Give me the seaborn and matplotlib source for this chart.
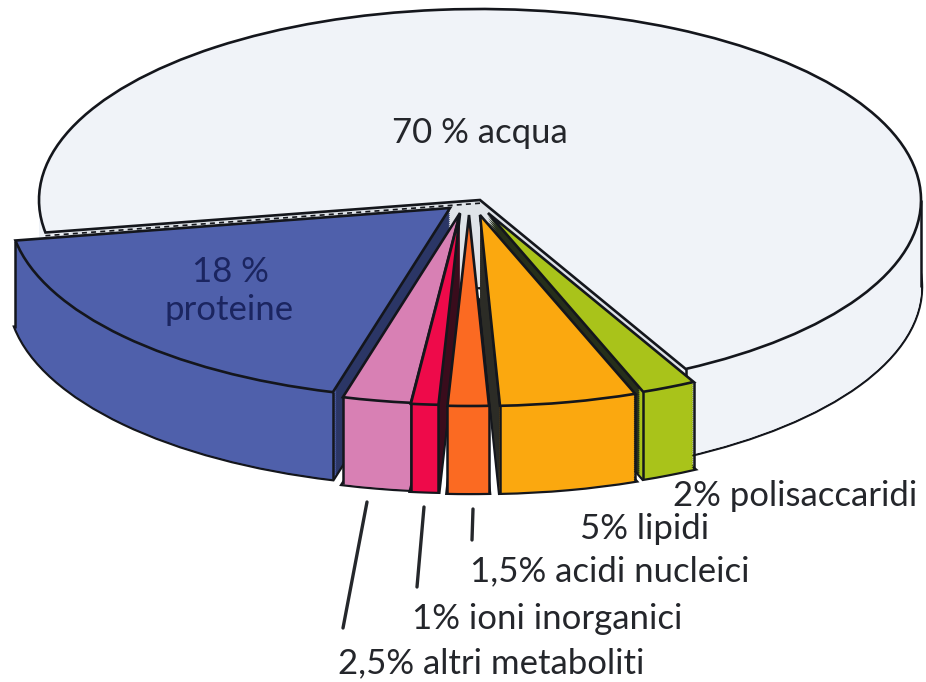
import numpy as np
import matplotlib
matplotlib.use("Agg")
import matplotlib.pyplot as plt
import seaborn as sns

# ---- data ----
names = ["acqua", "proteine", "altri metaboliti", "ioni inorganici",
         "acidi nucleici", "lipidi", "polisaccaridi"]
values = [70, 18, 2.5, 1, 1.5, 5, 2]
face_colors = ["#f0f3f8", "#4f60ab", "#d880b4", "#ee0a4a", "#fb6a22", "#fba80f", "#a9c31a"]
cut_colors = ["#dfe3e8", "#2b3666", "#6e5a6a", "#3a0c1c", "#2a1712", "#2c2c26", "#262f1a"]

# ---- layout (reference pixels) ----
W, H = 926, 682
RX, RY = 441.0, 191.0
CX0, CY0 = 479.0, 200.0
DEPTH = 87
apex_px = [(480, 200), (450, 208), (460, 213), (460, 214), (469, 215), (480, 215), (488, 213)]
paint_order = [0, 1, 6, 2, 5, 3, 4]
START = -62.2


def X(px):
    return (px - CX0) / RX


def Y(py):
    return (CY0 - py) / RY


sns.set_theme(style="white")
plt.rcParams["font.family"] = ["Lato", "DejaVu Sans"]
fig = plt.figure(figsize=(W / 100, H / 100), dpi=100, facecolor="white")
ax = fig.add_axes([0, 0, 1, 1])
palette = sns.color_palette(face_colors)
cut_palette = sns.color_palette(cut_colors)


def layer(shift_px, colors, z_offset, width=None, edge=None, lw=0.0):
    props = {"linewidth": lw, "edgecolor": edge if edge else "none"}
    if width is not None:
        props["width"] = width
    wedges, _ = ax.pie(values, startangle=START, colors=colors, radius=1.0,
                       wedgeprops=props)
    for i, w in enumerate(wedges):
        ax_, ay_ = apex_px[i]
        w.set_center((X(ax_), Y(ay_ + shift_px)))
        w.set_zorder(paint_order.index(i) * 10 + z_offset)
    return wedges


LINE = "#14161c"
shifts = np.arange(DEPTH, -1, -2)
layer(DEPTH, palette, 0, edge=LINE, lw=3.2)   # lower outline, half covered by the walls
for s in shifts:
    layer(s, cut_palette, 1)           # cut faces
for s in shifts:
    layer(s, palette, 2, width=0.03)   # outer walls
top = layer(0, palette, 5, edge=LINE, lw=1.9)  # top faces

# vertical edges at the wall corners, taken from the wedges' own angles
for i, w in enumerate(top):
    cx, cy = w.center
    z = paint_order.index(i) * 10 + 4
    thetas = [w.theta1, w.theta2] if i else [w.theta1, 360.0]
    for t in thetas:
        if np.sin(np.radians(t)) < 0.0 or i == 0:
            xv = cx + np.cos(np.radians(t))
            yv = cy + np.sin(np.radians(t))
            ax.plot([xv, xv], [yv, yv - DEPTH / RY], color=LINE, lw=1.8, zorder=z,
                    solid_capstyle="butt")

# dashed light strips along the cut edges
for i, t_attr, off in [(0, "theta2", 3.2), (5, "theta1", 2.0)]:
    w = top[i]
    t = np.radians(getattr(w, t_attr))
    cx, cy = w.center
    shift = off / RY
    ax.plot([cx, cx + np.cos(t)], [cy - shift, cy + np.sin(t) - shift],
            color=LINE, lw=1.2, dashes=(3, 2.5), zorder=paint_order.index(i) * 10 + 3)

# leader lines
for (x0, y0), (x1, y1) in [((367, 502), (343, 628)), ((424, 507), (417, 587)),
                           ((473, 509), (472, 540))]:
    ax.plot([X(x0), X(x1)], [Y(y0), Y(y1)], color="#25272b", lw=2.4, zorder=200,
            solid_capstyle="round")

# texts
TXT = "#24262b"
FS = 25
ax.text(X(480), Y(143), "70 % acqua", ha="center", va="baseline", fontsize=FS, color=TXT, zorder=201)
ax.text(X(230), Y(282), "18 %", ha="center", va="baseline", fontsize=FS, color="#1b2560", zorder=201)
ax.text(X(229), Y(320), "proteine", ha="center", va="baseline", fontsize=FS, color="#1b2560", zorder=201)
ax.text(X(673), Y(506), "2% polisaccaridi", ha="left", va="baseline", fontsize=FS, color=TXT, zorder=201)
ax.text(X(580), Y(539), "5% lipidi", ha="left", va="baseline", fontsize=FS, color=TXT, zorder=201)
ax.text(X(470), Y(581), "1,5% acidi nucleici", ha="left", va="baseline", fontsize=FS, color=TXT, zorder=201)
ax.text(X(412), Y(629), "1% ioni inorganici", ha="left", va="baseline", fontsize=FS, color=TXT, zorder=201)
ax.text(X(338), Y(673), "2,5% altri metaboliti", ha="left", va="baseline", fontsize=FS, color=TXT, zorder=201)

ax.set_aspect("auto")
ax.set_xlim(X(0), X(W))
ax.set_ylim(Y(H), Y(0))
ax.set_axis_off()
fig.savefig("out.png", dpi=100, facecolor="white")
